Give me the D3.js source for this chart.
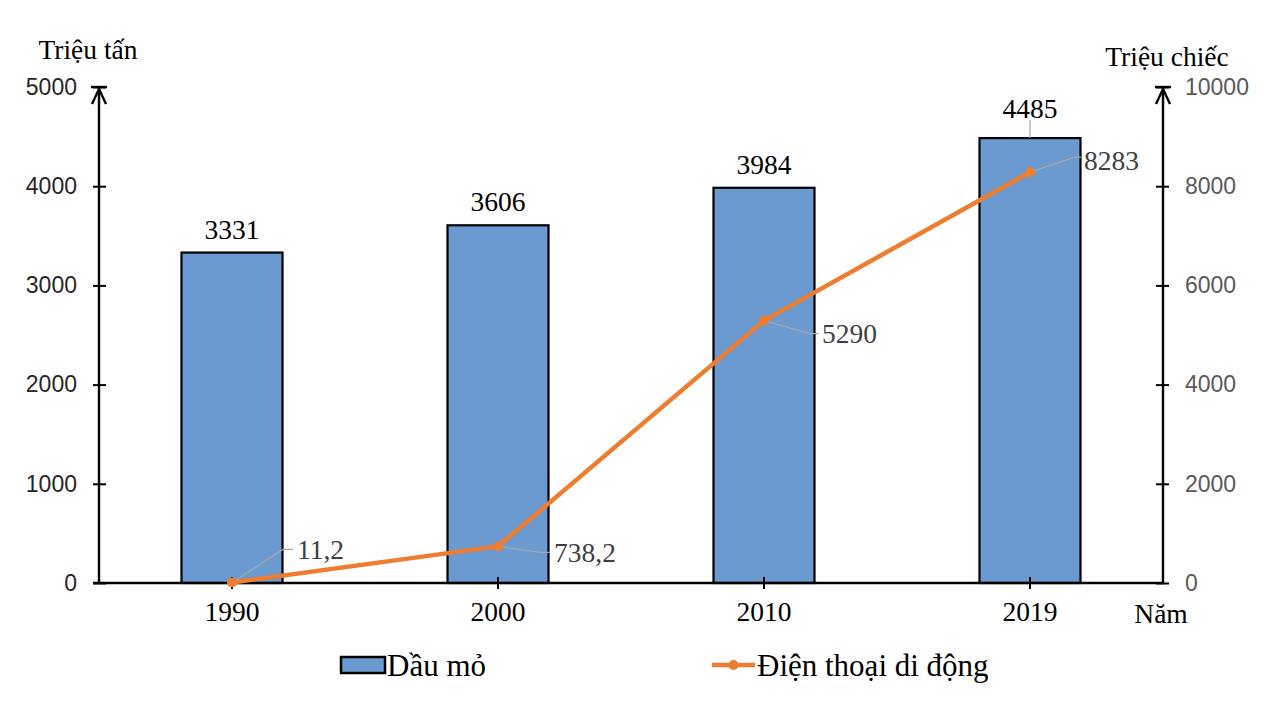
<!DOCTYPE html>
<html><head><meta charset="utf-8">
<script src="https://cdn.jsdelivr.net/npm/d3@7"></script>
<style>
html,body{margin:0;padding:0;background:#fff;}
svg{display:block;}
</style></head>
<body>
<svg id="chart" width="1268" height="710"></svg>
<script>
const years = ["1990", "2000", "2010", "2019"];
const oil = [3331, 3606, 3984, 4485];
const phones = [11.2, 738.2, 5290, 8283];
const phoneLabels = ["11,2", "738,2", "5290", "8283"];
const leftTicks = [0, 1000, 2000, 3000, 4000, 5000];
const rightTicks = [0, 2000, 4000, 6000, 8000, 10000];

const svg = d3.select("#chart");
const serif = "'Liberation Serif','Times New Roman',serif";
const sans = "'Liberation Sans',Arial,sans-serif";
const L = 99, R = 1163, B = 583, T = 87;
const FS = 27.5;

const x = d3.scaleBand().domain(years).range([L, R]);
const yL = d3.scaleLinear().domain([0, 5000]).range([B, T]);
const yR = d3.scaleLinear().domain([0, 10000]).range([B, T]);
const barW = 101;

// bars
svg.append("g").selectAll("rect").data(years).join("rect")
  .attr("x", d => x(d) + x.bandwidth()/2 - barW/2)
  .attr("y", (d,i) => yL(oil[i]))
  .attr("width", barW)
  .attr("height", (d,i) => B - yL(oil[i]))
  .attr("fill", "#6A9AD0")
  .attr("stroke", "#000").attr("stroke-width", 2.2);

// left axis
const gL = svg.append("g").attr("transform", `translate(${L},0)`)
  .call(d3.axisLeft(yL).tickValues(leftTicks).tickSize(6).tickPadding(16).tickFormat(d3.format("d")));
gL.select(".domain").remove();
gL.selectAll(".tick line").attr("x1", -6).attr("x2", 7).attr("stroke", "#000").attr("stroke-width", 2);
gL.selectAll(".tick text").attr("font-family", sans).attr("font-size", 23).attr("fill", "#262626");

// right axis
const gR = svg.append("g").attr("transform", `translate(${R},0)`)
  .call(d3.axisRight(yR).tickValues(rightTicks).tickSize(6).tickPadding(16).tickFormat(d3.format("d")));
gR.select(".domain").remove();
gR.selectAll(".tick line").attr("x1", -7).attr("x2", 6).attr("stroke", "#000").attr("stroke-width", 2);
gR.selectAll(".tick text").attr("font-family", sans).attr("font-size", 23).attr("fill", "#595959");

// bottom axis
const gB = svg.append("g").attr("transform", `translate(0,${B})`)
  .call(d3.axisBottom(x).tickSize(6).tickPadding(12));
gB.select(".domain").remove();
gB.selectAll(".tick line").attr("y1", -6).attr("y2", 6).attr("stroke", "#000").attr("stroke-width", 2);
gB.selectAll(".tick text").attr("font-family", serif).attr("font-size", FS).attr("fill", "#000");

// axis lines with arrows
const axes = svg.append("g").attr("stroke", "#000").attr("stroke-width", 2.4).attr("fill", "none");
axes.append("line").attr("x1", L - 6).attr("x2", R + 1).attr("y1", B).attr("y2", B);
[L, R].forEach(ax => {
  axes.append("line").attr("x1", ax).attr("x2", ax).attr("y1", B).attr("y2", T);
  axes.append("line").attr("x1", ax - 8).attr("x2", ax + 8).attr("y1", T).attr("y2", T);
  axes.append("path").attr("d", `M${ax-7},${T+17} L${ax},${T+2} L${ax+7},${T+17}`);
});

// axis titles
svg.append("text").attr("x", 88).attr("y", 59).attr("text-anchor", "middle")
  .attr("font-family", serif).attr("font-size", FS).text("Triệu tấn");
svg.append("text").attr("x", 1167).attr("y", 66).attr("text-anchor", "middle")
  .attr("font-family", serif).attr("font-size", FS).text("Triệu chiếc");
svg.append("text").attr("x", 1161).attr("y", 623).attr("text-anchor", "middle")
  .attr("font-family", serif).attr("font-size", FS).text("Năm");

// bar labels
const barLabOff = [14, 14, 14, 20];
svg.append("g").selectAll("text").data(years).join("text")
  .attr("x", d => x(d) + x.bandwidth()/2)
  .attr("y", (d,i) => yL(oil[i]) - barLabOff[i])
  .attr("text-anchor", "middle")
  .attr("font-family", serif).attr("font-size", FS).attr("fill", "#000")
  .text((d,i) => oil[i]);
// short leader for 4485
svg.append("line").attr("x1", x("2019") + x.bandwidth()/2).attr("x2", x("2019") + x.bandwidth()/2)
  .attr("y1", yL(oil[3]) - 18).attr("y2", yL(oil[3])).attr("stroke", "#A6A6A6").attr("stroke-width", 1.2);

// line
const cx = d => x(d) + x.bandwidth()/2;
const line = d3.line().x((d,i) => cx(years[i])).y(d => yR(d));
svg.append("path").datum(phones).attr("d", line)
  .attr("fill", "none").attr("stroke", "#ED7D31").attr("stroke-width", 4.5).attr("stroke-linejoin", "round");

// leader lines + line labels (offsets relative to points)
const lab = [
  {kx: 51, ky: -33, hx: 10, tx: 65, ty: -33},
  {kx: 42, ky: 6, hx: 10, tx: 56, ty: 6},
  {kx: 46, ky: 13, hx: 8, tx: 58, ty: 13},
  {kx: 45, ky: -15, hx: 6, tx: 54, ty: -12}
];
const lg = svg.append("g");
phones.forEach((v, i) => {
  const px = cx(years[i]), py = yR(v), o = lab[i];
  lg.append("path")
    .attr("d", `M${px},${py} L${px+o.kx},${py+o.ky} L${px+o.kx+o.hx},${py+o.ky}`)
    .attr("fill", "none").attr("stroke", "#A6A6A6").attr("stroke-width", 1.3);
  lg.append("text").attr("x", px + o.tx).attr("y", py + o.ty).attr("dy", "0.35em")
    .attr("font-family", serif).attr("font-size", FS).attr("fill", "#404040")
    .text(phoneLabels[i]);
});

// markers
svg.append("g").selectAll("circle").data(phones).join("circle")
  .attr("cx", (d,i) => cx(years[i])).attr("cy", d => yR(d)).attr("r", 5)
  .attr("fill", "#ED7D31");

// legend
const leg = svg.append("g");
leg.append("rect").attr("x", 341).attr("y", 657).attr("width", 44).attr("height", 16)
  .attr("fill", "#6A9AD0").attr("stroke", "#000").attr("stroke-width", 2.5);
leg.append("text").attr("x", 387).attr("y", 676).attr("font-family", serif).attr("font-size", 31).text("Dầu mỏ");
leg.append("line").attr("x1", 712).attr("x2", 755).attr("y1", 665).attr("y2", 665)
  .attr("stroke", "#ED7D31").attr("stroke-width", 4.5);
leg.append("circle").attr("cx", 733.5).attr("cy", 665).attr("r", 5).attr("fill", "#ED7D31");
leg.append("text").attr("x", 757).attr("y", 676).attr("font-family", serif).attr("font-size", 31).text("Điện thoại di động");
</script>
</body></html>
